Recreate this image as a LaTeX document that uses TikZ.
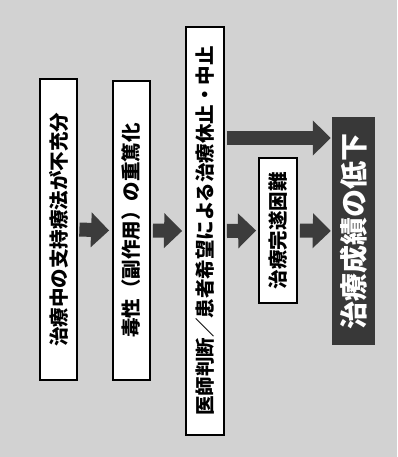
\documentclass[tikz,border=0pt]{standalone}
\usepackage{fontspec}
\usepackage{graphicx}
\newfontfamily\cjk{Noto Sans CJK JP}
\usetikzlibrary{arrows.meta}
\definecolor{bggrey}{HTML}{D2D2D2}
\definecolor{arrowgrey}{HTML}{3C3C3C}
\definecolor{darkbox}{HTML}{383838}
\tikzset{
  stepbox/.style={draw=black, line width=1.8pt, fill=white, inner sep=0pt,
    font=\cjk\bfseries\fontsize{19.5}{20}\selectfont},
  resultbox/.style={draw=none, fill=darkbox, text=white, inner sep=0pt,
    font=\cjk\bfseries\fontsize{28}{29}\selectfont},
  blockarrow/.style={draw=arrowgrey, line width=14pt,
    -{Triangle[length=18pt, width=34pt]}},
}
\begin{document}
\begin{tikzpicture}[x=1pt, y=-1pt]
\useasboundingbox (0,0) rectangle (397,457);
\fill[bggrey] (0,0) rectangle (397,457);

\node[stepbox, minimum width=37pt, minimum height=301pt] (b1) at (58.5,229.5)
  {\rotatebox{90}{治療中の支持療法が不充分}};
\node[stepbox, minimum width=37pt, minimum height=299pt] (b2) at (131.5,230.5)
  {\rotatebox{90}{毒性（副作用）の重篤化}};
\node[stepbox, minimum width=38pt, minimum height=408pt] (b3) at (205,231)
  {\rotatebox{90}{医師判断／患者希望による治療休止・中止}};
\node[stepbox, minimum width=38pt, minimum height=145pt] (b4) at (278,230.5)
  {\rotatebox{90}{治療完遂困難}};
\node[resultbox, minimum width=43pt, minimum height=228pt] (b5) at (353.5,231)
  {\rotatebox{90}{治療成績の低下}};

\draw[blockarrow] ([xshift=1.5pt]b1.east) -- ([xshift=-3pt]b2.west);
\draw[blockarrow] ([xshift=2pt]b2.east) -- ([xshift=-3pt]b3.west);
\draw[blockarrow] ([xshift=2pt]b3.east) -- ([xshift=-2pt]b4.west);
\draw[blockarrow] ([xshift=2pt]b4.east) -- ([xshift=-1pt]b5.west);
\draw[blockarrow] ([xshift=2pt, yshift=93pt]b3.east) -- ([xshift=-1pt, yshift=93pt]b5.west);
\end{tikzpicture}
\end{document}
